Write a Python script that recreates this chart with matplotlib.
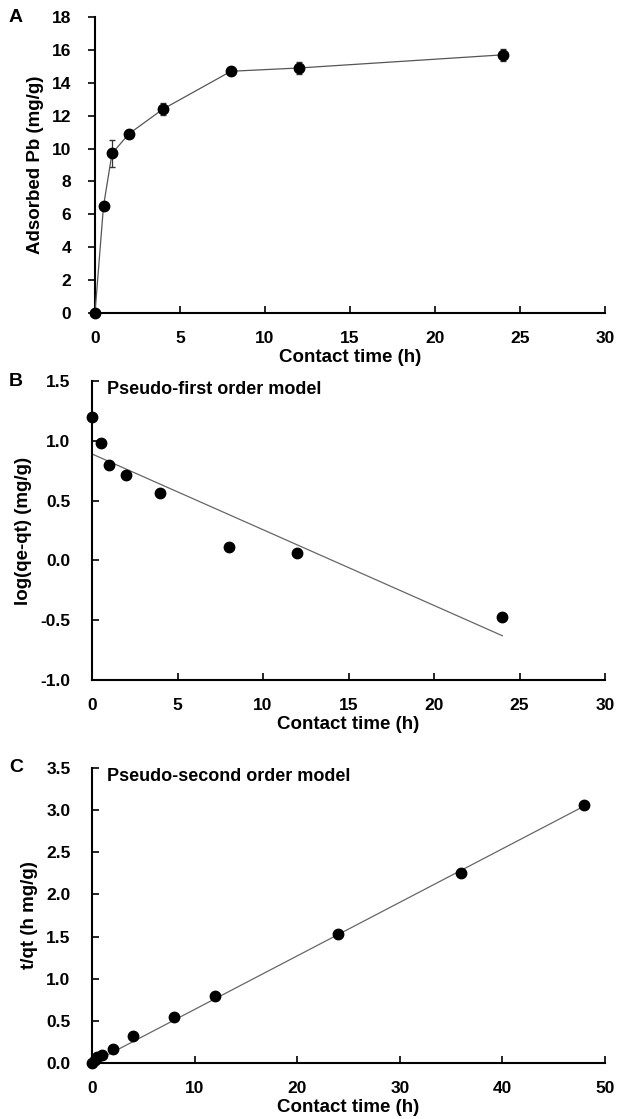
import numpy as np
import matplotlib.pyplot as plt

plt.rcParams['font.family'] = ['Liberation Sans', 'DejaVu Sans']
plt.rcParams['font.weight'] = 'bold'
plt.rcParams['axes.labelweight'] = 'bold'
plt.rcParams['font.size'] = 12

# panel A: adsorption kinetics
t_a = [0, 0.5, 1, 2, 4, 8, 12, 24]
q_a = [0, 6.5, 9.7, 10.9, 12.4, 14.7, 14.9, 15.7]
err_a = [0.1, 0.2, 0.8, 0.25, 0.35, 0.2, 0.35, 0.35]

# panel B: pseudo-first order
t_b = [0, 0.5, 1, 2, 4, 8, 12, 24]
logq_b = [1.2, 0.98, 0.80, 0.71, 0.56, 0.11, 0.06, -0.47]
fit_b_x = [0, 24]
fit_b_y = [0.89, -0.63]

# panel C: pseudo-second order
t_c = [0, 0.25, 0.5, 1, 2, 4, 8, 12, 24, 36, 48]
tq_c = [0.0, 0.04, 0.07, 0.10, 0.17, 0.32, 0.54, 0.80, 1.53, 2.25, 3.06]
fit_c_x = [0, 48]
fit_c_y = [0.0, 3.05]

W, H = 617, 1119
fig = plt.figure(figsize=(W / 100, H / 100), dpi=100)


def make_ax(left, top, bottom, ydir):
    ax = fig.add_axes([left / W, 1 - bottom / H, (605 - left) / W,
                       (bottom - top) / H])
    for s in ['top', 'right']:
        ax.spines[s].set_visible(False)
    for s in ['left', 'bottom']:
        ax.spines[s].set_linewidth(1.5)
    ax.tick_params(axis='x', direction='in', length=5, width=1.2, pad=13,
                   labelsize=12.5)
    if ydir == 'out':
        ax.tick_params(axis='y', direction='out', length=5, width=1.2,
                       pad=12, labelsize=12.5)
    else:
        ax.tick_params(axis='y', direction='in', length=5, width=1.2,
                       pad=15.5, labelsize=12.5)
    ax.set_xlabel('Contact time (h)', fontsize=13.5, labelpad=2)
    return ax


axA = make_ax(95, 17, 313, 'out')
axA.errorbar(t_a, q_a, yerr=err_a, color='#555555', lw=0.9, marker='o',
             ms=7.5, mfc='black', mec='black', capsize=2.5, ecolor='#333333',
             clip_on=False, zorder=3)
axA.set_xlim(0, 30)
axA.set_ylim(0, 18)
axA.set_xticks(range(0, 31, 5))
axA.set_yticks(range(0, 19, 2))
axA.set_ylabel('Adsorbed Pb (mg/g)', fontsize=13.5, labelpad=6)
fig.text(16 / W, 1 - 17 / H, 'A', fontsize=14, va='center', ha='center')

axB = make_ax(92, 381, 680, 'in')
axB.plot(fit_b_x, fit_b_y, color='#666666', lw=0.9)
axB.plot(t_b, logq_b, 'o', color='black', ms=7.5, clip_on=False, zorder=3)
axB.set_xlim(0, 30)
axB.set_ylim(-1.0, 1.5)
axB.set_xticks(range(0, 31, 5))
axB.set_yticks(np.arange(-1.0, 1.51, 0.5))
axB.yaxis.set_major_formatter(plt.FormatStrFormatter('%.1f'))
axB.set_ylabel('log(qe-qt) (mg/g)', fontsize=13.5, labelpad=6)
axB.text(0.03, 1.0, 'Pseudo-first order model', transform=axB.transAxes,
         fontsize=13, va='top')
fig.text(16 / W, 1 - 381 / H, 'B', fontsize=14, va='center', ha='center')

axC = make_ax(92, 768, 1063, 'in')
axC.plot(fit_c_x, fit_c_y, color='#666666', lw=0.9)
axC.plot(t_c, tq_c, 'o', color='black', ms=7.5, clip_on=False, zorder=3)
axC.set_xlim(0, 50)
axC.set_ylim(0, 3.5)
axC.set_xticks(range(0, 51, 10))
axC.set_yticks(np.arange(0, 3.51, 0.5))
axC.yaxis.set_major_formatter(plt.FormatStrFormatter('%.1f'))
axC.set_ylabel('t/qt (h mg/g)', fontsize=13.5, labelpad=6)
axC.text(0.03, 1.0, 'Pseudo-second order model', transform=axC.transAxes,
         fontsize=13, va='top')
fig.text(16 / W, 1 - 768 / H, 'C', fontsize=14, va='center', ha='center')

fig.savefig('out.png', dpi=100)
